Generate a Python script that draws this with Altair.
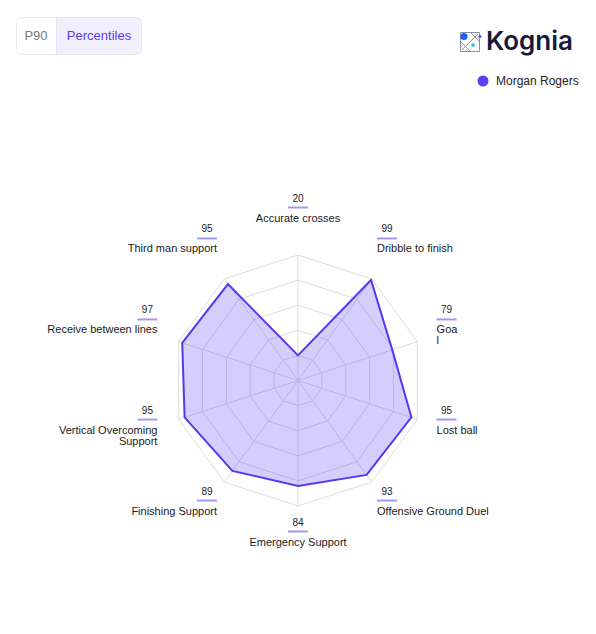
import altair as alt
import pandas as pd

# ---------------- data ----------------
categories = ["Accurate crosses", "Dribble to finish", "Goal", "Lost ball",
              "Offensive Ground Duel", "Emergency Support", "Finishing Support",
              "Vertical Overcoming Support", "Receive between lines", "Third man support"]
label_text = ["Accurate crosses", "Dribble to finish", "Goa\nl", "Lost ball",
              "Offensive Ground Duel", "Emergency Support", "Finishing Support",
              "Vertical Overcoming\nSupport", "Receive between lines", "Third man support"]
values = [20, 99, 79, 95, 93, 84, 89, 95, 97, 95]
player = "Morgan Rogers"
ring_levels = [20, 40, 60, 80, 100]
mode_buttons = ["P90", "Percentiles"]
brand = "Kognia"

N = len(categories)
RMAX = max(ring_levels)

# ---------------- layout (pixels) ----------------
W, H = 580, 618
K = 1.255            # px per value unit
CX, CY = 290, 372.5  # centre of radar within plot
LBL_R, LBL_DY = 162, 11
LBL_RX, LBL_PX = 164, 16.4
LBL_SHIFT = -1.0
UL = 20              # underline length

X = alt.Scale(domain=[-CX / K, (W - CX) / K], nice=False, zero=False)
Y = alt.Scale(domain=[-(H - CY) / K, CY / K], nice=False, zero=False)
FONT = "Liberation Sans"

df = pd.DataFrame({"idx": list(range(N)), "category": categories,
                   "label": label_text, "value": values, "player": player})
rings = pd.DataFrame([{"level": l, "idx": i} for l in ring_levels for i in range(N)])

ang = f"2*PI*datum.idx/{N}"

grid = alt.Chart(rings).transform_calculate(
    a=ang, x="datum.level*sin(datum.a)", y="datum.level*cos(datum.a)"
).mark_line(interpolate="linear-closed", stroke="#dcdcdc", strokeWidth=1).encode(
    x=alt.X("x:Q", scale=X, axis=None),
    y=alt.Y("y:Q", scale=Y, axis=None),
    detail="level:N", order="idx:Q")

spokes = alt.Chart(df).transform_calculate(
    a=ang, x0="0", y0="0", x=f"{RMAX}*sin(datum.a)", y=f"{RMAX}*cos(datum.a)"
).mark_rule(stroke="#dcdcdc", strokeWidth=1).encode(
    x=alt.X("x0:Q", scale=X, axis=None), y=alt.Y("y0:Q", scale=Y, axis=None),
    x2="x:Q", y2="y:Q")

poly = alt.Chart(df).transform_calculate(
    a=ang, x="datum.value*sin(datum.a)", y="datum.value*cos(datum.a)"
).mark_line(interpolate="linear-closed", fill="#5b3ff2", fillOpacity=0.26,
            strokeWidth=2).encode(
    x=alt.X("x:Q", scale=X, axis=None),
    y=alt.Y("y:Q", scale=Y, axis=None),
    order="idx:Q",
    color=alt.Color("player:N", scale=alt.Scale(range=["#4f3cf0"]),
                    legend=alt.Legend(title=None, orient="none", legendX=469, legendY=67,
                                      symbolType="circle", symbolSize=121,
                                      symbolFillColor="#5b3cf4", symbolStrokeWidth=0,
                                      symbolOpacity=1,
                                      labelFont=FONT, labelFontSize=12, labelColor="#222222",
                                      labelOffset=7, padding=0)))

lab = alt.Chart(df).transform_calculate(
    a=ang, s="sin(datum.a)", c="cos(datum.a)",
    side="datum.s > 0.01 ? 'right' : (datum.s < -0.01 ? 'left' : 'center')",
    ly=f"({LBL_DY} + {LBL_R}*datum.c)/{K}",
    edge=f"((datum.s > 0 ? 1 : -1)*({LBL_RX}*abs(datum.s) - {LBL_PX}) + {LBL_SHIFT})/{K}",
    ux1=f"datum.side == 'right' ? datum.edge : (datum.side == 'left' ? datum.edge - {UL}/{K} : -{UL / 2}/{K})",
    ux2=f"datum.side == 'right' ? datum.edge + {UL}/{K} : (datum.side == 'left' ? datum.edge : {UL / 2}/{K})",
    um="(datum.ux1 + datum.ux2)/2",
    lx="datum.side == 'right' ? datum.ux1 : (datum.side == 'left' ? datum.ux2 : 0)",
    vtxt="'' + datum.value",
)

underline = lab.mark_rule(stroke="#a597f5", strokeWidth=2).encode(
    x=alt.X("ux1:Q", scale=X, axis=None), x2="ux2:Q",
    y=alt.Y("ly:Q", scale=Y, axis=None))

val_text = lab.mark_text(font=FONT, fontSize=10, color="#222222", baseline="middle",
                         align="center", dy=-9).encode(
    x=alt.X("um:Q", scale=X, axis=None), y=alt.Y("ly:Q", scale=Y, axis=None),
    text="vtxt:N")

def label_layer(side, align):
    return lab.transform_filter(f"datum.side == '{side}'").mark_text(
        font=FONT, fontSize=11, color="#1a1a1a", baseline="top", align=align,
        dy=5, lineBreak="\n", lineHeight=11).encode(
        x=alt.X("lx:Q", scale=X, axis=None), y=alt.Y("ly:Q", scale=Y, axis=None),
        text="label:N")

lab_r = label_layer("right", "left")
lab_l = label_layer("left", "right")
lab_c = label_layer("center", "center")

# ---------------- header decorations ----------------
btn = pd.DataFrame({"name": mode_buttons})
one = pd.DataFrame({"name": [brand]})

btn_right = alt.Chart(one).mark_rect(fill="#f1effe", cornerRadiusTopRight=5,
                                     cornerRadiusBottomRight=5).encode(
    x=alt.value(48), x2=alt.value(133), y=alt.value(9), y2=alt.value(46))
btn_border = alt.Chart(one).mark_rect(fill="transparent", stroke="#e6e6e6", strokeWidth=1,
                                      cornerRadius=5).encode(
    x=alt.value(8.5), x2=alt.value(133.5), y=alt.value(9.5), y2=alt.value(46.5))
btn_div = alt.Chart(one).mark_rule(stroke="#e6e6e6", strokeWidth=1).encode(
    x=alt.value(48.5), y=alt.value(9.5), y2=alt.value(46.5))
btn_p90 = alt.Chart(btn).transform_filter(f"datum.name == '{mode_buttons[0]}'").mark_text(
    font=FONT, fontSize=13, color="#7a7a7a", align="center", baseline="middle").encode(
    x=alt.value(28), y=alt.value(27.5), text="name:N")
btn_pct = alt.Chart(btn).transform_filter(f"datum.name == '{mode_buttons[1]}'").mark_text(
    font=FONT, fontSize=13, color="#5b3cf0", align="center", baseline="middle").encode(
    x=alt.value(91), y=alt.value(27.5), text="name:N")

logo_txt = alt.Chart(one).mark_text(font="Inter", fontSize=26, fontWeight=600,
                                    color="#151a3a", align="left",
                                    baseline="alphabetic").encode(
    x=alt.value(478), y=alt.value(42), text="name:N")
icon_box = alt.Chart(one).mark_rect(fill="transparent", stroke="#8a8ea6", strokeWidth=1).encode(
    x=alt.value(452.5), x2=alt.value(471.5), y=alt.value(24.5), y2=alt.value(43.5))
icon_d1 = alt.Chart(one).mark_rule(stroke="#8a8ea6", strokeWidth=1).encode(
    x=alt.value(452.5), y=alt.value(33.5), x2=alt.value(462.5), y2=alt.value(43.5))
icon_d2 = alt.Chart(one).mark_rule(stroke="#8a8ea6", strokeWidth=1).encode(
    x=alt.value(462.5), y=alt.value(24.5), x2=alt.value(471.5), y2=alt.value(33.5))
icon_d3 = alt.Chart(one).mark_rule(stroke="#8a8ea6", strokeWidth=1).encode(
    x=alt.value(454), y=alt.value(42), x2=alt.value(470), y2=alt.value(26))
icon_blue = alt.Chart(one).mark_circle(color="#1f5cf2", opacity=1, size=50).encode(
    x=alt.value(456), y=alt.value(28.5))
icon_cyan = alt.Chart(one).mark_circle(color="#19c4e6", opacity=1, size=14).encode(
    x=alt.value(465), y=alt.value(37))
icon_purple = alt.Chart(one).mark_circle(color="#6b4cf5", opacity=1, size=10).encode(
    x=alt.value(472), y=alt.value(28.5))

chart = alt.layer(
    grid, spokes, poly, underline, val_text, lab_r, lab_l, lab_c,
    btn_right, btn_border, btn_div, btn_p90, btn_pct,
    icon_box, icon_d1, icon_d2, icon_d3, icon_blue, icon_cyan, icon_purple, logo_txt
).properties(
    width=W, height=H,
    autosize=alt.AutoSizeParams(type="none"), padding=0
).configure(font=FONT).configure_view(stroke=None)

chart.save("out.html", embed_options={"renderer": "svg", "actions": False})
